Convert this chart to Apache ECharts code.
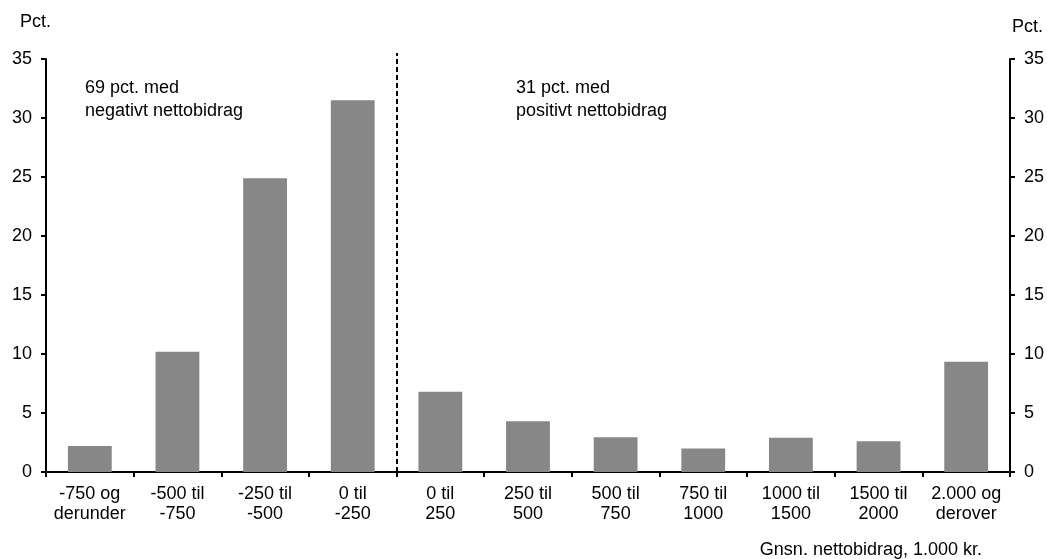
<!DOCTYPE html>
<html>
<head>
<meta charset="utf-8">
<script src="https://cdn.jsdelivr.net/npm/echarts@6/dist/echarts.min.js"></script>
<style>html,body{margin:0;padding:0;background:#fff;}#c{width:1047px;height:559px;}</style>
</head>
<body>
<div id="c"></div>
<script>
const categories = ['-750 og\nderunder','-500 til\n-750','-250 til\n-500','0 til\n-250','0 til\n250','250 til\n500','500 til\n750','750 til\n1000','1000 til\n1500','1500 til\n2000','2.000 og\nderover'];
const values = [2.2, 10.2, 24.9, 31.5, 6.8, 4.3, 2.95, 2.0, 2.9, 2.6, 9.35];
const yTicks = {min: 0, max: 35, interval: 5};
const dividerAt = 4; // boundary between negative and positive groups (in category units)
const noteLeft = '69 pct. med\nnegativt nettobidrag';
const noteRight = '31 pct. med\npositivt nettobidrag';
const unitLabel = 'Pct.';
const xTitle = 'Gnsn. nettobidrag, 1.000 kr.';

const FONT = 'Liberation Sans, Arial, sans-serif';
const chart = echarts.init(document.getElementById('c'), null, {renderer: 'canvas'});
const axisLineStyle = {color: '#000', width: 2};
const yCommon = {
  type: 'value', min: yTicks.min, max: yTicks.max, interval: yTicks.interval,
  gridIndex: 0,
  axisLine: {show: true, lineStyle: axisLineStyle},
  axisTick: {show: true, length: 5, lineStyle: axisLineStyle},
  splitLine: {show: false},
  axisLabel: {color: '#000', fontSize: 18, fontFamily: FONT, margin: 14}
};
chart.setOption({
  animation: false,
  backgroundColor: '#fff',
  grid: [
    {left: 46, right: 37, top: 59, bottom: 87, containLabel: false},
    {left: 46, right: 37, top: 53, bottom: 87, containLabel: false}
  ],
  xAxis: [
    {
      type: 'category', data: categories, gridIndex: 0,
      axisLine: {show: true, lineStyle: axisLineStyle},
      axisTick: {show: true, length: 5, alignWithLabel: false, lineStyle: axisLineStyle},
      axisLabel: {color: '#000', fontSize: 18, fontFamily: FONT, margin: 12, lineHeight: 20, interval: 0}
    },
    {type: 'value', gridIndex: 1, min: 0, max: categories.length, show: false}
  ],
  yAxis: [
    Object.assign({}, yCommon, {position: 'left'}),
    Object.assign({}, yCommon, {position: 'right'}),
    {type: 'value', gridIndex: 1, min: 0, max: 1, show: false}
  ],
  series: [
    {
      type: 'bar', data: values, xAxisIndex: 0, yAxisIndex: 0,
      barCategoryGap: '50%',
      itemStyle: {color: '#878787'}
    },
    {
      type: 'line', data: [], xAxisIndex: 1, yAxisIndex: 2,
      markLine: {
        silent: true, symbol: 'none', label: {show: false},
        lineStyle: {color: '#000', width: 2, type: [5, 3]},
        data: [[{coord: [dividerAt, 0]}, {coord: [dividerAt, 1]}]]
      }
    }
  ],
  graphic: [
    {type: 'text', left: 20, top: 13, style: {text: unitLabel, fill: '#000', font: '18px ' + FONT}},
    {type: 'text', left: 1012, top: 18, style: {text: unitLabel, fill: '#000', font: '18px ' + FONT}},
    {type: 'text', left: 85, top: 77, style: {text: noteLeft, fill: '#000', font: '18px ' + FONT, lineHeight: 23}},
    {type: 'text', left: 516, top: 77, style: {text: noteRight, fill: '#000', font: '18px ' + FONT, lineHeight: 23}},
    {type: 'text', right: 65, top: 541, style: {text: xTitle, fill: '#000', font: '18px ' + FONT}}
  ]
});
</script>
</body>
</html>
